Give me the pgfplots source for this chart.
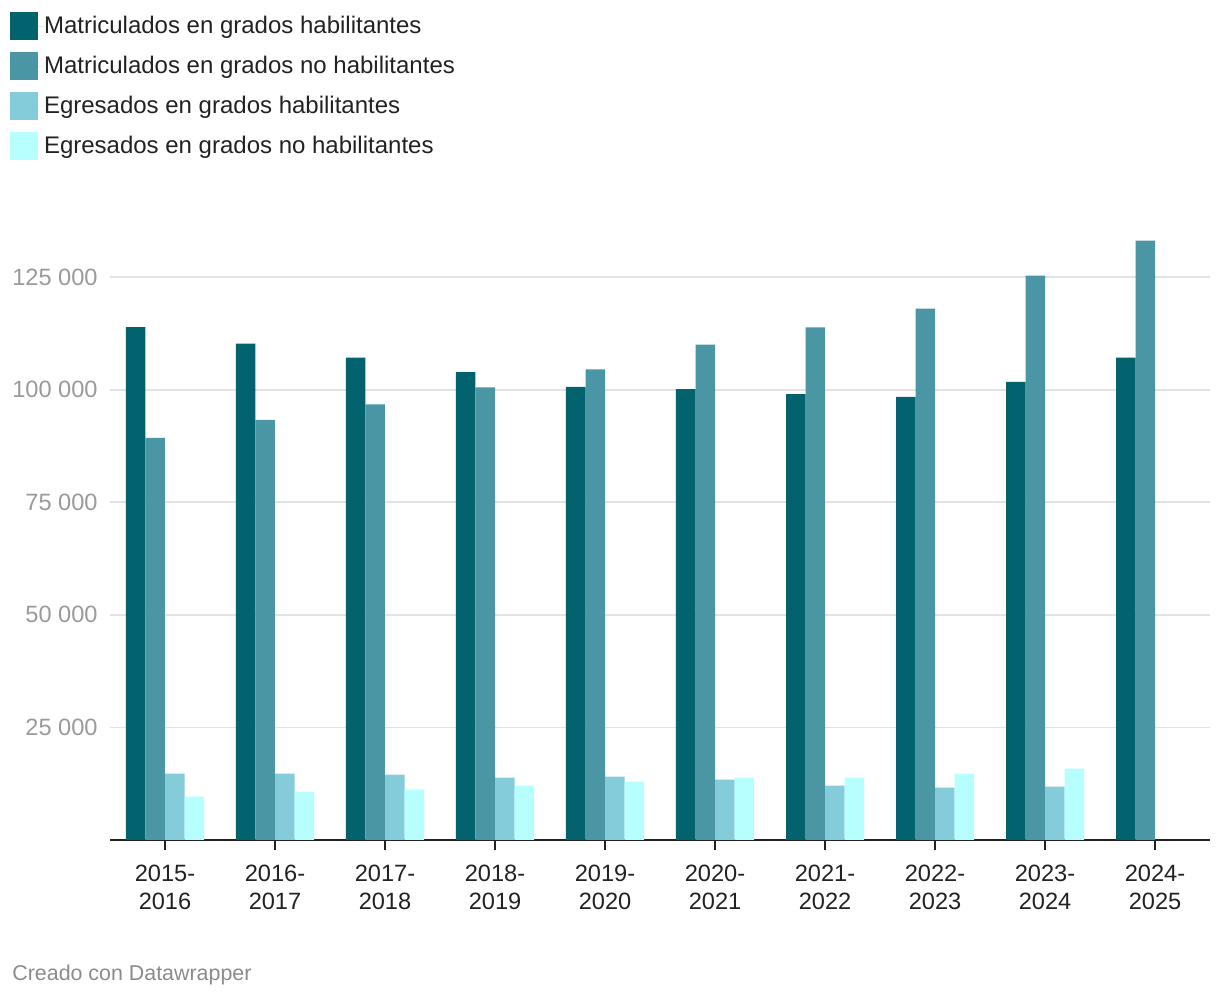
\documentclass[border=0pt]{standalone}
\usepackage{pgfplots}
\pgfplotsset{compat=1.18}
\usepackage{fontspec}
\setmainfont{Liberation Sans}

\definecolor{cDark}{HTML}{02636F}
\definecolor{cMid}{HTML}{4A96A5}
\definecolor{cLight}{HTML}{84CCDA}
\definecolor{cPale}{HTML}{B7FFFF}
\definecolor{txt}{HTML}{222222}
\definecolor{ticktxt}{HTML}{9A9A9A}
\definecolor{gridc}{HTML}{E3E3E3}

\begin{document}
\begin{tikzpicture}
\useasboundingbox (0,0) rectangle (610pt,500pt);
\begin{axis}[
    at={(55pt,80pt)}, anchor=south west,
    scale only axis,
    width=550pt, height=304pt,
    xmin=-0.5, xmax=9.5,
    ymin=0, ymax=135000,
    bar width=0.1773,
    axis x line*=bottom,
    axis y line*=left,
    x axis line style={draw=txt, line width=1pt},
    y axis line style={draw=none},
    xtick={0,...,9},
    xticklabels={{2015-\\2016},{2016-\\2017},{2017-\\2018},{2018-\\2019},{2019-\\2020},
                 {2020-\\2021},{2021-\\2022},{2022-\\2023},{2023-\\2024},{2024-\\2025}},
    xtick style={draw=txt, line width=1pt},
    ytick style={draw=none},
    major tick length=5pt,
    tick align=outside,
    xticklabel style={align=center, font=\fontsize{11.8}{13.9}\selectfont, text=txt, inner sep=0pt, yshift=-7.5pt},
    ytick={25000,50000,75000,100000,125000},
    ymajorgrids=true,
    grid style={gridc, line width=0.9pt},
    scaled y ticks=false,
    yticklabel style={font=\fontsize{11.8}{13.7}\selectfont, text=ticktxt, anchor=east, inner sep=0pt, xshift=-1pt,
        /pgf/number format/.cd, fixed, precision=0, 1000 sep={\ }, assume math mode=true},
    legend style={
        at={(axis description cs:-0.0909,1.3618)}, anchor=north west,
        draw=none, fill=none, inner sep=0pt,
        font=\fontsize{12}{14}\selectfont, text=txt,
        row sep=6.2pt,
        cells={anchor=west},
        nodes={inner sep=0pt},
    },
    legend image code/.code={
        \fill[#1] (0pt,-6.9pt) rectangle (13.8pt,6.9pt);
        \path (0pt,0pt) -- (16.8pt,0pt);
    },
    clip=false,
]
\addplot[ybar, fill=cDark, draw=none, bar shift=-0.266] coordinates {
    (0,113900) (1,110200) (2,107100) (3,103900) (4,100600)
    (5,100100) (6,99000) (7,98400) (8,101700) (9,107100)};
\addlegendentry{Matriculados en grados habilitantes}
\addplot[ybar, fill=cMid, draw=none, bar shift=-0.0887] coordinates {
    (0,89300) (1,93300) (2,96700) (3,100500) (4,104500)
    (5,110000) (6,113800) (7,118000) (8,125300) (9,133100)};
\addlegendentry{Matriculados en grados no habilitantes}
\addplot[ybar, fill=cLight, draw=none, bar shift=0.0887] coordinates {
    (0,14750) (1,14750) (2,14530) (3,13860) (4,14080)
    (5,13420) (6,12090) (7,11640) (8,11870)};
\addlegendentry{Egresados en grados habilitantes}
\addplot[ybar, fill=cPale, draw=none, bar shift=0.266] coordinates {
    (0,9650) (1,10760) (2,11200) (3,12090) (4,12980)
    (5,13860) (6,13860) (7,14750) (8,15860)};
\addlegendentry{Egresados en grados no habilitantes}
\node[anchor=base west, inner sep=0pt, font=\fontsize{10.7}{12}\selectfont, text=ticktxt!90!black]
    at (axis description cs:-0.0891,-0.2303) {Creado con Datawrapper};
\end{axis}
\end{tikzpicture}
\end{document}
